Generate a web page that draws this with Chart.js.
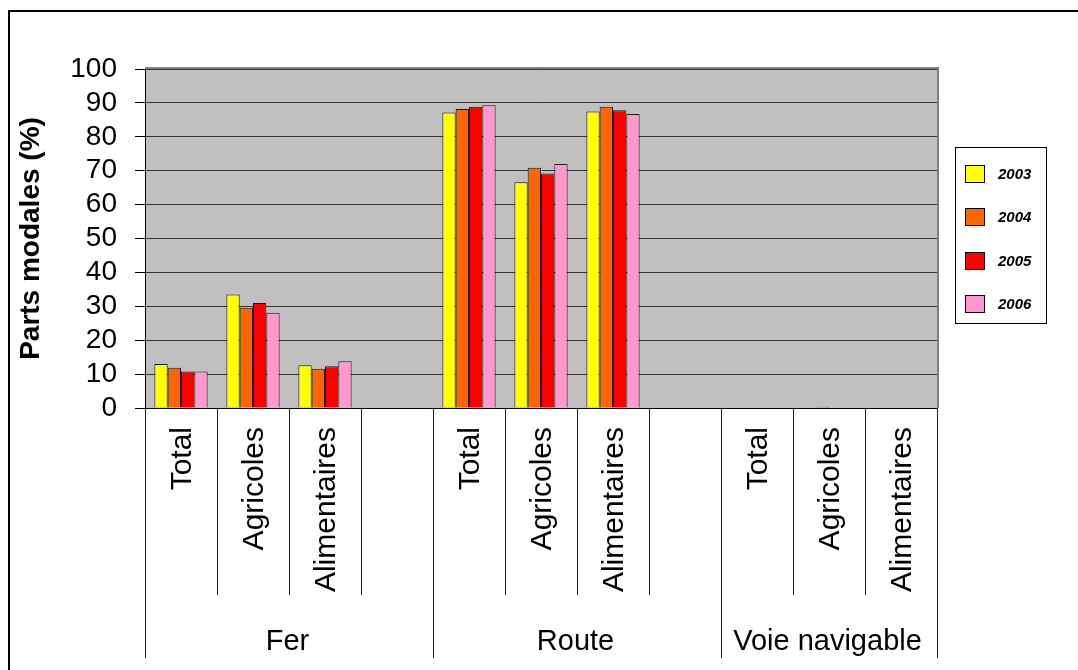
<!DOCTYPE html>
<html>
<head>
<meta charset="utf-8">
<script src="https://cdn.jsdelivr.net/npm/chart.js@4"></script>
<style>
  body { margin: 0; background: #fff; }
  #wrap { width: 1078px; height: 670px; }
</style>
</head>
<body>
<div id="wrap"><canvas id="parts-modales" width="1078" height="670"></canvas></div>
<script>
const Chart = window.Chart;
Chart.defaults.font.family = '"Liberation Sans", Arial, sans-serif';
Chart.defaults.color = '#000';

// categories on the x axis, blank slots separate the transport modes
const categories = ['Total', 'Agricoles', 'Alimentaires', '', 'Total', 'Agricoles', 'Alimentaires', '', 'Total', 'Agricoles', 'Alimentaires'];
const groupLabels = ['Fer', 'Route', 'Voie navigable'];
const groupSizes = [4, 4, 3];

const years = ['2003', '2004', '2005', '2006'];
const yearColors = ['#FFFF00', '#FF6600', '#FF0000', '#FF99CC'];

const values2003 = [13.0, 33.5, 12.6, null, 87.2, 66.6, 87.5, null, 0, 0, 0];
const values2004 = [11.9, 29.6, 11.6, null, 88.2, 70.9, 88.9, null, 0, 0.4, 0];
const values2005 = [10.8, 31.0, 12.3, null, 88.9, 69.2, 87.8, null, 0, 0, 0];
const values2006 = [10.8, 28.1, 13.8, null, 89.3, 72.0, 86.7, null, 0, 0, 0];

const yTicks = [0, 10, 20, 30, 40, 50, 60, 70, 80, 90, 100];

const allValues = [values2003, values2004, values2005, values2006];

//gray plot area with its thin border
const plotBackground = {
    id: 'plotBackground',
    beforeDraw(chart) {
        const {ctx, chartArea: a} = chart;
        ctx.save();
        ctx.fillStyle = '#fff';
        ctx.fillRect(0, 0, chart.width, chart.height);
        ctx.fillStyle = '#C0C0C0';
        ctx.fillRect(a.left, a.top, a.right - a.left, a.bottom - a.top);
        ctx.strokeStyle = '#808080';
        ctx.lineWidth = 2;
        ctx.beginPath();
        ctx.moveTo(a.left, a.top - 1);
        ctx.lineTo(a.right + 1, a.top - 1);
        ctx.lineTo(a.right + 1, a.bottom);
        ctx.stroke();
        ctx.restore();
    }
};

//two level category axis under the bars, plus the frame and the legend
const decorations = {
    id: 'decorations',
    afterDraw(chart) {
        const {ctx, chartArea: a} = chart;
        const x = chart.scales.x;
        const step = x.getPixelForValue(1) - x.getPixelForValue(0);
        const font = '"Liberation Sans", Arial, sans-serif';

        ctx.save();

        // axis line
        ctx.strokeStyle = '#000';
        ctx.lineWidth = 1;
        ctx.beginPath();
        ctx.moveTo(a.left, a.bottom + 0.5);
        ctx.lineTo(a.right, a.bottom + 0.5);
        ctx.stroke();

        // group boundaries
        const groupEdges = [0];
        groupSizes.forEach(n => groupEdges.push(groupEdges[groupEdges.length - 1] + n));
        const edgeX = i => Math.round(x.getPixelForValue(i) - step / 2) + 0.5;

        ctx.strokeStyle = '#222';
        ctx.beginPath();
        for (let i = 0; i <= categories.length; i++) {
            const isGroupEdge = groupEdges.includes(i);
            ctx.moveTo(edgeX(i), a.bottom);
            ctx.lineTo(edgeX(i), isGroupEdge ? 658 : 595);
        }
        ctx.stroke();

        // rotated category labels
        ctx.fillStyle = '#000';
        ctx.font = '30px ' + font;
        ctx.textAlign = 'right';
        ctx.textBaseline = 'alphabetic';
        categories.forEach((label, i) => {
            if (!label) return;
            ctx.save();
            ctx.translate(x.getPixelForValue(i) + 10, a.bottom + 19);
            ctx.rotate(-Math.PI / 2);
            ctx.fillText(label, 0, 0);
            ctx.restore();
        });

        // mode labels
        ctx.font = '29px ' + font;
        ctx.textAlign = 'center';
        groupLabels.forEach((label, g) => {
            const cx = (edgeX(groupEdges[g]) + edgeX(groupEdges[g + 1])) / 2;
            ctx.fillText(label, cx - 2, 650);
        });

        // frame
        ctx.strokeStyle = '#000';
        ctx.lineWidth = 2;
        ctx.beginPath();
        ctx.moveTo(9, 670);
        ctx.lineTo(9, 11);
        ctx.lineTo(1078, 11);
        ctx.stroke();

        // legend
        ctx.lineWidth = 1;
        ctx.strokeRect(955.5, 147.5, 91, 176);
        ctx.font = 'italic bold 15px ' + font;
        ctx.textAlign = 'left';
        ctx.textBaseline = 'middle';
        chart.data.datasets.forEach((ds, i) => {
            const cy = 174 + i * 43.3;
            ctx.fillStyle = ds.backgroundColor;
            ctx.fillRect(965, Math.round(cy - 9), 20, 18);
            ctx.strokeStyle = '#000';
            ctx.strokeRect(965.5, Math.round(cy - 9) + 0.5, 19, 17);
            ctx.fillStyle = '#000';
            ctx.fillText(ds.label, 998, cy + 1);
        });

        ctx.restore();
    }
};

const datasets = years.map((year, i) => ({
    label: year,
    data: allValues[i],
    backgroundColor: yearColors[i],
    borderColor: '#1a1a1a',
    borderWidth: 1,
    borderSkipped: 'start',
    categoryPercentage: 0.74,
    barPercentage: 1.0
}));

const chart = new Chart(document.getElementById('parts-modales'), {
    type: 'bar',
    data: {
        labels: categories,
        datasets: datasets
    },
    options: {
        responsive: false,
        animation: false,
        layout: {
            padding: {left: 8, top: 69, right: 141, bottom: 262}
        },
        plugins: {
            legend: {display: false},
            tooltip: {enabled: false}
        },
        scales: {
            x: {
                display: false
            },
            y: {
                min: 0,
                max: 100,
                afterFit: function(scale) {
                    scale.width = 137;
                },
                afterBuildTicks: function(scale) {
                    scale.ticks = yTicks.map(v => ({value: v}));
                },
                ticks: {
                    autoSkip: false,
                    font: {size: 28},
                    color: '#000',
                    padding: 18
                },
                grid: {
                    color: '#333',
                    lineWidth: 1,
                    tickLength: 10,
                    tickColor: '#000'
                },
                border: {
                    color: '#000',
                    width: 1
                },
                title: {
                    display: true,
                    text: 'Parts modales (%)',
                    font: {size: 28, weight: 'bold'},
                    color: '#000',
                    padding: {top: 6, bottom: 0}
                }
            }
        }
    },
    plugins: [plotBackground, decorations]
});
</script>
</body>
</html>
